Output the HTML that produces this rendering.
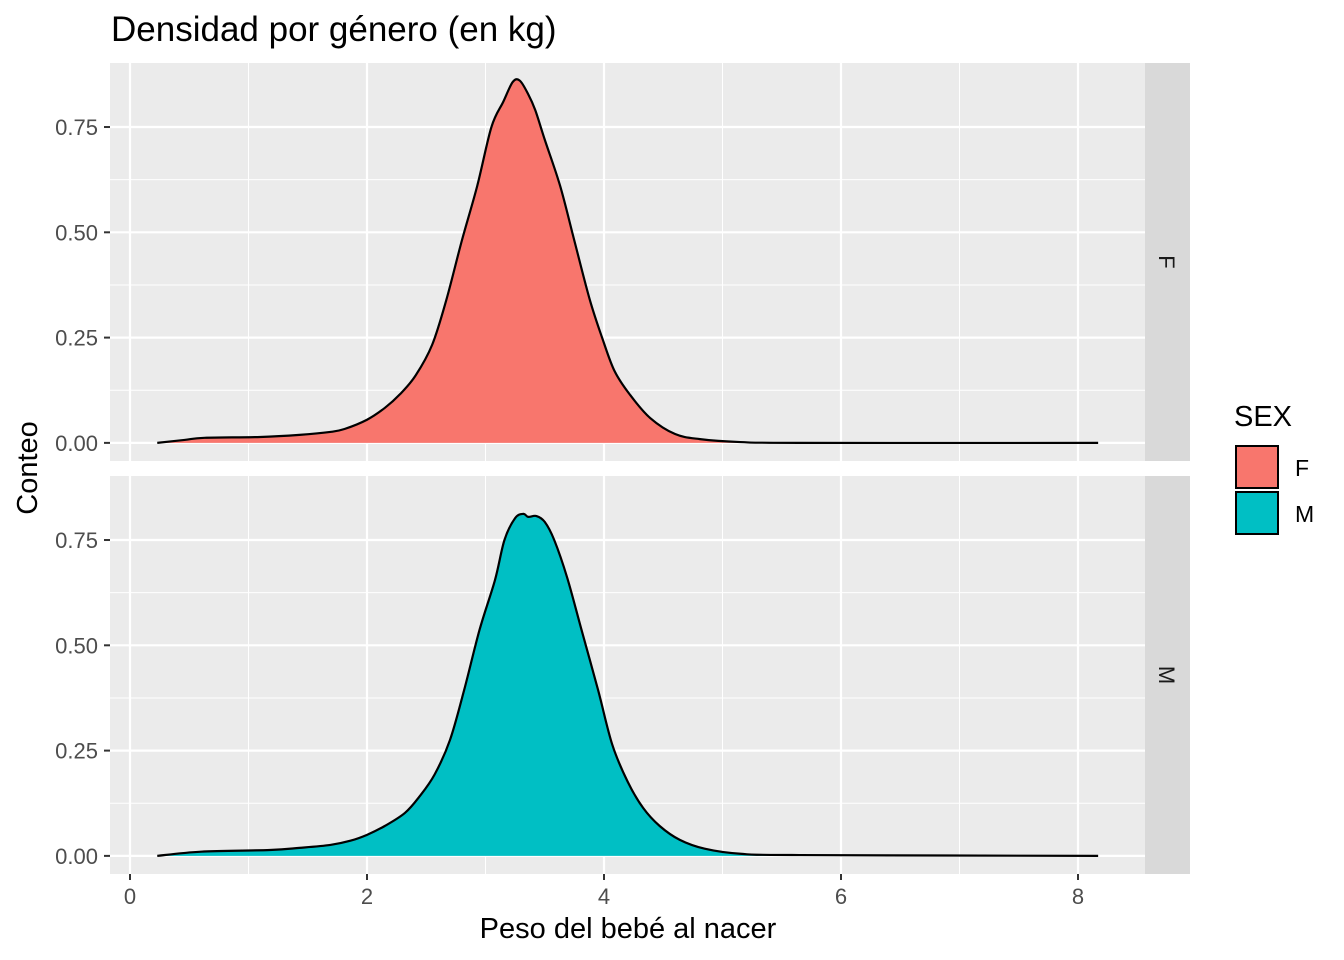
<!DOCTYPE html>
<html><head><meta charset="utf-8"><style>
body{margin:0;background:#fff}
svg{display:block;font-family:"Liberation Sans",sans-serif}
</style></head><body>
<svg id="chart" width="1344" height="960">
<text x="111" y="41" font-size="35" fill="#000">Densidad por género (en kg)</text>
<g id="panels"></g>
<text x="628" y="938" font-size="29" text-anchor="middle">Peso del bebé al nacer</text>
<text transform="translate(37,468) rotate(-90)" font-size="29" text-anchor="middle">Conteo</text>
<g>
<text x="1234" y="426" font-size="29">SEX</text>
<rect x="1236" y="446" width="42" height="42" fill="#F8766D" stroke="#000" stroke-width="2"/>
<rect x="1236" y="492" width="42" height="42" fill="#00BFC4" stroke="#000" stroke-width="2"/>
<text x="1295" y="476" font-size="23">F</text>
<text x="1295" y="522" font-size="23">M</text>
</g>
</svg>
<script>
const xTicks=[0,2,4,6,8];
const yTicks=[0,0.25,0.5,0.75];
const yTickLabels=["0.00","0.25","0.50","0.75"];
const groups=["F","M"];
const fX=[0.23,0.46,0.63,1.1,1.43,1.69,1.81,2.0,2.15,2.28,2.41,2.55,2.67,2.8,2.93,3.05,3.15,3.23,3.29,3.36,3.42,3.5,3.63,3.75,3.88,3.99,4.09,4.22,4.39,4.6,4.81,5.15,5.65,8.17];
const fY=[0,0.007,0.012,0.014,0.019,0.026,0.033,0.055,0.083,0.116,0.16,0.233,0.34,0.48,0.61,0.75,0.81,0.857,0.86,0.828,0.79,0.72,0.61,0.48,0.34,0.245,0.17,0.114,0.059,0.021,0.009,0.002,0,0];
const mX=[0.23,0.6,1.18,1.43,1.69,1.86,2.0,2.15,2.32,2.44,2.57,2.7,2.82,2.95,3.08,3.16,3.25,3.32,3.36,3.43,3.5,3.58,3.69,3.81,3.95,4.07,4.2,4.33,4.47,4.64,4.85,5.15,5.65,8.17];
const mY=[0,0.01,0.014,0.019,0.026,0.036,0.05,0.071,0.102,0.14,0.193,0.275,0.394,0.537,0.655,0.75,0.802,0.812,0.805,0.807,0.793,0.75,0.66,0.537,0.394,0.264,0.176,0.114,0.071,0.038,0.017,0.005,0.002,0];
const colors=["#F8766D","#00BFC4"];
const NS="http://www.w3.org/2000/svg";
const g=document.getElementById('panels');
const px0=110,px1=1145,panelTops=[63,476],ph=398;
const xs=v=>130+v*118.5;
const ymin=-0.043,ymax=0.902;
function mk(t,a,p){const e=document.createElementNS(NS,t);for(const k in a)e.setAttribute(k,a[k]);(p||g).appendChild(e);return e;}
function smooth(P){let d='M'+P[0][0]+','+P[0][1];
 for(let i=0;i<P.length-1;i++){const p0=P[Math.max(0,i-1)],p1=P[i],p2=P[i+1],p3=P[Math.min(P.length-1,i+2)];
  const c1=[p1[0]+(p2[0]-p0[0])/6,p1[1]+(p2[1]-p0[1])/6],c2=[p2[0]-(p3[0]-p1[0])/6,p2[1]-(p3[1]-p1[1])/6];
  d+=` C${c1[0]},${c1[1]} ${c2[0]},${c2[1]} ${p2[0]},${p2[1]}`;}
 return d;}
const series=[[fX,fY],[mX,mY]];
groups.forEach((grp,i)=>{
 const top=panelTops[i];
 const ys=v=>top+ph-(v-ymin)/(ymax-ymin)*ph;
 const bg=mk('rect',{x:px0,y:top,width:px1-px0,height:ph,fill:'#EBEBEB'});
 
 
 for(let k=0;k<xTicks.length-1;k++){const v=(xTicks[k]+xTicks[k+1])/2;mk('line',{x1:xs(v),x2:xs(v),y1:top,y2:top+ph,stroke:'#fff','stroke-width':1});}
 for(let k=0;k<yTicks.length-1;k++){const v=(yTicks[k]+yTicks[k+1])/2;mk('line',{x1:px0,x2:px1,y1:ys(v),y2:ys(v),stroke:'#fff','stroke-width':1});}
 xTicks.forEach(v=>mk('line',{x1:xs(v),x2:xs(v),y1:top,y2:top+ph,stroke:'#fff','stroke-width':2.2}));
 yTicks.forEach((v,k)=>{mk('line',{x1:px0,x2:px1,y1:ys(v),y2:ys(v),stroke:'#fff','stroke-width':2.2});
  mk('line',{x1:px0-6,x2:px0,y1:ys(v),y2:ys(v),stroke:'#333','stroke-width':2});
  const t=mk('text',{x:px0-12,y:ys(v)+8,'font-size':22,fill:'#4D4D4D','text-anchor':'end'});t.textContent=yTickLabels[k];
  
  });
 const [X,Y]=series[i];
 const P=X.map((x,k)=>[xs(x),ys(Y[k])]);
 const line=smooth(P);
 const area=mk('path',{d:line+` L${xs(X[X.length-1])},${ys(0)} L${xs(X[0])},${ys(0)}Z`,fill:colors[i],stroke:'none'});
 
 
 mk('path',{d:line,fill:'none',stroke:'#000','stroke-width':2.2,'stroke-linejoin':'round'});
 const st=mk('rect',{x:1145,y:top,width:45,height:ph,fill:'#D9D9D9'});
 
 
 const tt=mk('text',{transform:`translate(1159,${top+ph/2}) rotate(90)`,'font-size':22,fill:'#1A1A1A','text-anchor':'middle'});tt.textContent=grp;
 
 
});
xTicks.forEach(v=>{mk('line',{x1:xs(v),x2:xs(v),y1:874,y2:880,stroke:'#333','stroke-width':2});
 const t=mk('text',{x:xs(v),y:904,'font-size':22,fill:'#4D4D4D','text-anchor':'middle'});t.textContent=v;
 
 });
</script>
</body></html>
